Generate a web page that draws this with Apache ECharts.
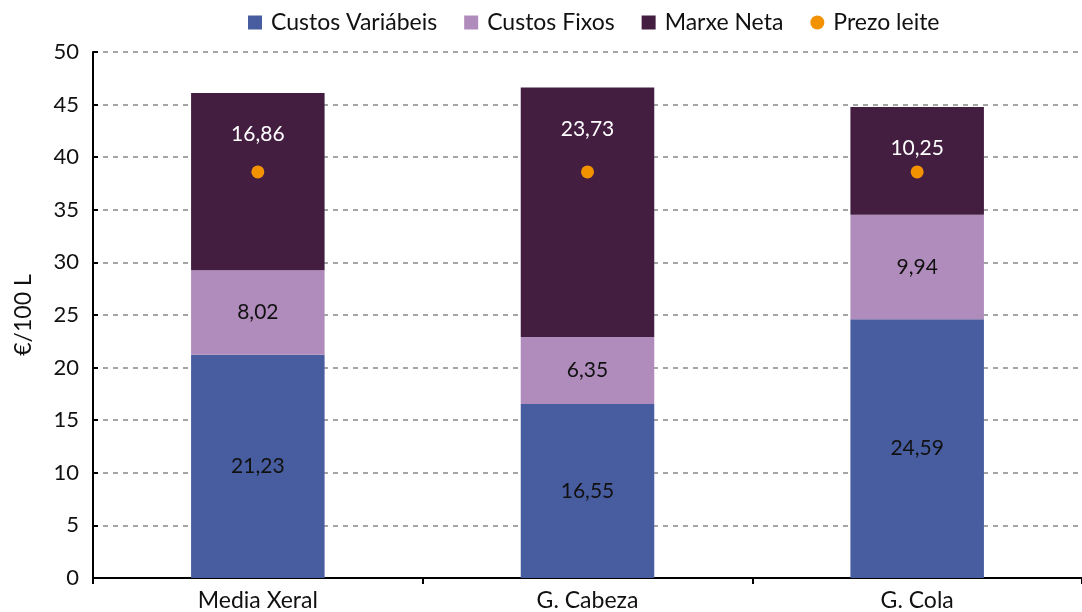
<!DOCTYPE html>
<html>
<head>
<meta charset="utf-8">
<script src="https://cdn.jsdelivr.net/npm/echarts@6/dist/echarts.min.js"></script>
<style>
  html, body { margin: 0; padding: 0; background: #fff; }
  #Echarts { width: 1082px; height: 612px; }
</style>
</head>
<body>
<div id="Echarts"></div>
<script>
// datos
var categorias = ['Media Xeral', 'G. Cabeza', 'G. Cola'];
var custosVariabeis = [21.23, 16.55, 24.59];
var custosFixos = [8.02, 6.35, 9.94];
var marxeNeta = [16.86, 23.73, 10.25];
var prezoLeite = [38.6, 38.6, 38.6];
var yTicks = [0, 5, 10, 15, 20, 25, 30, 35, 40, 45, 50];

var fonte = 'Lato, "Noto Sans", sans-serif';

function etiqueta(v) {
    return v.value.toFixed(2).replace('.', ',');
}

var myChart = echarts.init(document.getElementById('Echarts'));

var option = {
    animation: false,
    textStyle: { fontFamily: fonte },
    legend: {
        top: 6,
        left: 243,
        itemWidth: 14,
        itemHeight: 14,
        itemGap: 27,
        textStyle: { fontSize: 23, color: '#111', fontFamily: fonte, padding: [0, 0, 0, 4] },
        data: [
            { name: 'Custos Variábeis', icon: 'rect' },
            { name: 'Custos Fixos', icon: 'rect' },
            { name: 'Marxe Neta', icon: 'rect' },
            { name: 'Prezo leite', icon: 'circle' }
        ]
    },
    grid: { left: 93, right: 0, top: 52, bottom: 34 },
    xAxis: {
        type: 'category',
        data: categorias,
        axisLine: { lineStyle: { color: '#000', width: 2 } },
        axisTick: { show: true, length: 6, lineStyle: { color: '#000', width: 2 } },
        axisLabel: { fontSize: 23, color: '#111', margin: 11, fontFamily: fonte }
    },
    yAxis: {
        type: 'value',
        min: yTicks[0],
        max: yTicks[yTicks.length - 1],
        interval: 5,
        name: '€/100 L',
        nameLocation: 'middle',
        nameGap: 58,
        nameTextStyle: { fontSize: 23, color: '#111', fontFamily: fonte },
        axisLine: { show: true, lineStyle: { color: '#000', width: 2 } },
        axisTick: { show: true, inside: true, length: 5, lineStyle: { color: '#000', width: 2 } },
        axisLabel: { fontSize: 22, color: '#111', margin: 14, fontFamily: fonte },
        splitLine: { lineStyle: { color: '#888', type: [5, 5], width: 1.5 } }
    },
    series: [
        {
            name: 'Custos Variábeis',
            type: 'bar',
            stack: 'total',
            barWidth: '40.5%',
            itemStyle: { color: '#485DA0' },
            label: { show: true, position: 'inside', color: '#111', fontSize: 21, formatter: etiqueta },
            data: custosVariabeis
        },
        {
            name: 'Custos Fixos',
            type: 'bar',
            stack: 'total',
            itemStyle: { color: '#B08CBC' },
            label: { show: true, position: 'inside', color: '#111', fontSize: 21, formatter: etiqueta },
            data: custosFixos
        },
        {
            name: 'Marxe Neta',
            type: 'bar',
            stack: 'total',
            itemStyle: { color: '#431E40' },
            label: { show: true, position: 'insideTop', distance: 31, color: '#fff', fontSize: 21, formatter: etiqueta },
            data: marxeNeta
        },
        {
            name: 'Prezo leite',
            type: 'scatter',
            symbol: 'circle',
            symbolSize: 13,
            itemStyle: { color: '#F39200', opacity: 1 },
            z: 5,
            data: prezoLeite
        }
    ]
};

myChart.setOption(option);
</script>
</body>
</html>
